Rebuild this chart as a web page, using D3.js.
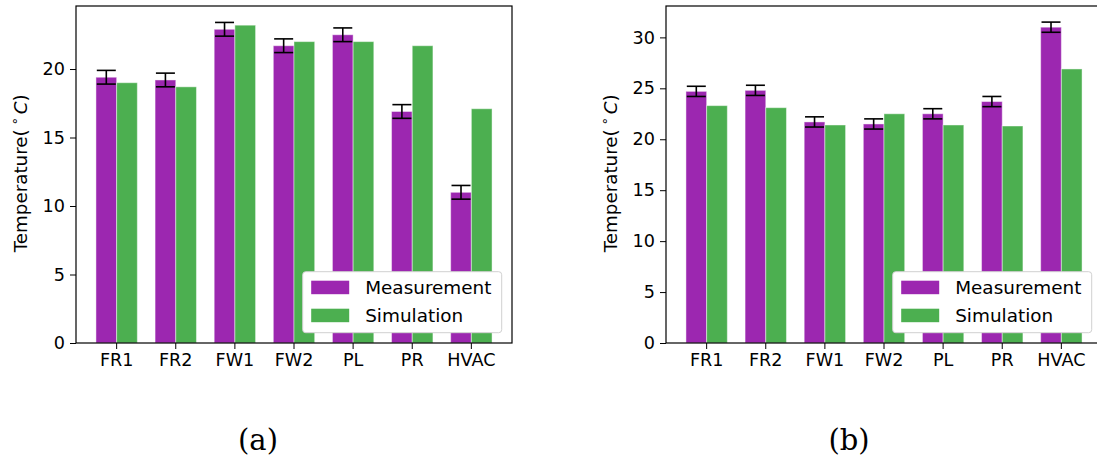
<!DOCTYPE html>
<html>
<head>
<meta charset="utf-8">
<script src="https://cdn.jsdelivr.net/npm/d3@7"></script>
<style>
  body { margin: 0; background: #fff; }
  svg { display: block; font-family: "DejaVu Sans", sans-serif; }
</style>
</head>
<body>
<svg id="chart" width="1097" height="459"></svg>
<script>
// data
var categories = ['FR1', 'FR2', 'FW1', 'FW2', 'PL', 'PR', 'HVAC'];
var seriesNames = ['Measurement', 'Simulation'];

var measA = [19.4, 19.2, 22.9, 21.7, 22.5, 16.9, 11.0];
var simA  = [19.0, 18.7, 23.2, 22.0, 22.0, 21.7, 17.1];
var errA  = [0.5, 0.5, 0.5, 0.5, 0.5, 0.5, 0.5];

var measB = [24.7, 24.8, 21.7, 21.5, 22.5, 23.7, 31.0];
var simB  = [23.3, 23.1, 21.4, 22.5, 21.4, 21.3, 26.9];
var errB  = [0.5, 0.5, 0.5, 0.5, 0.5, 0.5, 0.5];

var yTicksA = [0, 5, 10, 15, 20];
var yTicksB = [0, 5, 10, 15, 20, 25, 30];
var captions = ['(a)', '(b)'];

var colors = ['#9c27b0', '#4caf50'];

var svg = d3.select('#chart');

var panels = [
  {left: 76,  meas: measA, sim: simA, err: errA, ymax: 24.6,  ticks: yTicksA, cap: captions[0], capX: 258},
  {left: 666, meas: measB, sim: simB, err: errB, ymax: 33.08, ticks: yTicksB, cap: captions[1], capX: 849}
];

var W = 436, plotTop = 6, plotBottom = 343;

panels.forEach(function(p) {
  var g = svg.append('g');

  var x = d3.scaleBand()
    .domain(categories)
    .range([p.left, p.left + W])
    .paddingInner(0.3)
    .paddingOuter(0.3375);
  var half = x.bandwidth() / 2;

  var y = d3.scaleLinear().domain([0, p.ymax]).range([plotBottom, plotTop]);

  // bars
  [p.meas, p.sim].forEach(function(vals, s) {
    g.selectAll('rect.s' + s)
      .data(vals)
      .enter().append('rect')
      .attr('class', 's' + s)
      .attr('x', (d, i) => x(categories[i]) + s * half)
      .attr('y', d => y(d))
      .attr('width', half)
      .attr('height', d => plotBottom - y(d))
      .attr('fill', colors[s])
      .attr('stroke', 'rgba(255,255,255,0.45)')
      .attr('stroke-width', 1);
  });

  // error bars on measurement
  var eb = g.selectAll('g.err')
    .data(p.meas)
    .enter().append('g')
    .attr('class', 'err')
    .attr('stroke', '#000')
    .attr('stroke-width', 1.6);
  var cx = (d, i) => x(categories[i]) + half / 2;
  eb.append('line')
    .attr('x1', cx).attr('x2', cx)
    .attr('y1', (d, i) => y(d + p.err[i]))
    .attr('y2', (d, i) => y(d - p.err[i]));
  [1, -1].forEach(function(sg) {
    eb.append('line')
      .attr('x1', (d, i) => cx(d, i) - 9.5)
      .attr('x2', (d, i) => cx(d, i) + 9.5)
      .attr('y1', (d, i) => y(d + sg * p.err[i]))
      .attr('y2', (d, i) => y(d + sg * p.err[i]));
  });

  // axes
  var xAxis = d3.axisBottom(x).tickSize(6).tickPadding(5);
  var gx = g.append('g').attr('transform', 'translate(0,' + plotBottom + ')').call(xAxis);
  gx.select('.domain').remove();
  gx.selectAll('text').attr('font-size', 17.6).attr('fill', '#000').attr('font-family', '"DejaVu Sans"');

  var yAxis = d3.axisLeft(y).tickValues(p.ticks).tickSize(6).tickPadding(5);
  var gy = g.append('g').attr('transform', 'translate(' + p.left + ',0)').call(yAxis);
  gy.select('.domain').remove();
  gy.selectAll('text').attr('font-size', 17.6).attr('fill', '#000').attr('font-family', '"DejaVu Sans"');

  // frame
  g.append('rect')
    .attr('x', p.left).attr('y', plotTop)
    .attr('width', W).attr('height', plotBottom - plotTop)
    .attr('fill', 'none').attr('stroke', '#000').attr('stroke-width', 1.2);

  // y label
  var yl = g.append('text')
    .attr('transform', 'translate(' + (p.left - 49.5) + ',173.3) rotate(-90)')
    .attr('text-anchor', 'middle')
    .attr('font-size', 18.3)
    .attr('fill', '#000');
  yl.append('tspan').text('Temperature(');
  yl.append('tspan').attr('dx', 4).attr('dy', -8).attr('font-size', 13).text('\u2218');
  yl.append('tspan').attr('dx', 3).attr('dy', 8).attr('font-style', 'italic').text('C');
  yl.append('tspan').text(')');

  // legend
  var lx = p.left + 226.7, ly = 271.7;
  var lg = g.append('g');
  lg.append('rect')
    .attr('x', lx).attr('y', ly).attr('width', 199).attr('height', 61)
    .attr('rx', 3)
    .attr('fill', '#fff')
    .attr('stroke', '#d0d0d0').attr('stroke-width', 1);
  seriesNames.forEach(function(n, s) {
    lg.append('rect')
      .attr('x', lx + 8.5).attr('y', ly + 9 + s * 28)
      .attr('width', 38).attr('height', 13.5)
      .attr('fill', colors[s]);
    lg.append('text')
      .attr('x', lx + 62.5).attr('y', ly + 22 + s * 28)
      .attr('font-size', 18.4).attr('fill', '#000')
      .text(n);
  });

  // caption
  svg.append('text')
    .attr('x', p.capX).attr('y', 450)
    .attr('text-anchor', 'middle')
    .attr('font-family', '"DejaVu Serif", serif')
    .attr('font-size', 29)
    .attr('fill', '#000')
    .text(p.cap);
});
</script>
</body>
</html>
